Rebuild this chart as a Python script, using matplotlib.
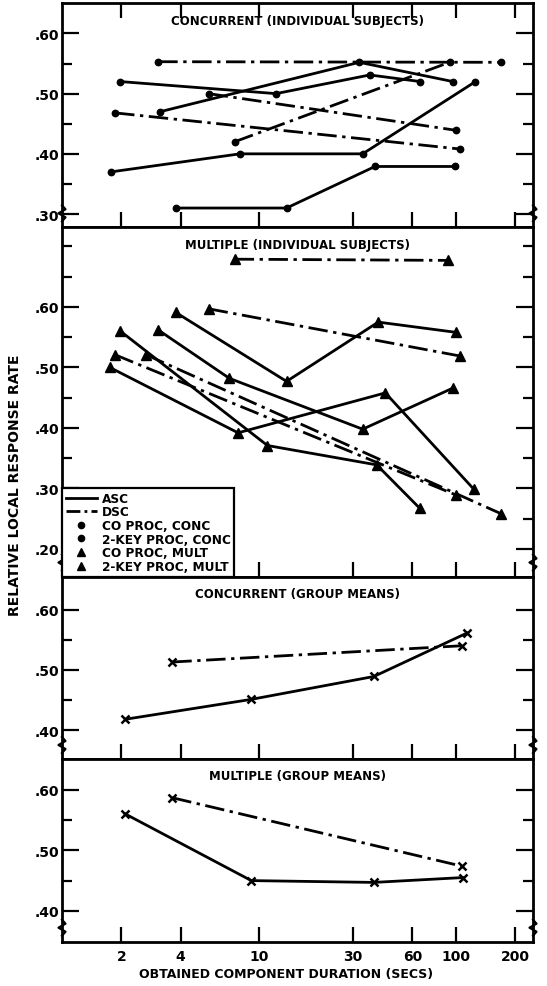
import matplotlib
matplotlib.use("Agg")
import matplotlib.pyplot as plt
from matplotlib.lines import Line2D
from matplotlib.ticker import FixedLocator, FuncFormatter, NullLocator

plt.rcParams['font.family'] = ['DejaVu Sans']
plt.rcParams['font.weight'] = 'bold'

# x tick values (secs)
x_ticks = [2, 4, 10, 30, 60, 100, 200]
x_tick_labels = ["2", "4", "10", "30", "60", "100", "200"]

# concurrent, individual subjects (dots)
conc_asc_x = [[1.98, 12.2, 36.5, 66.0], [3.15, 32.3, 96.5], [1.77, 8.0, 33.6, 125.6], [3.78, 13.8, 38.8, 98.3]]
conc_asc_y = [[0.52, 0.50, 0.531, 0.52], [0.47, 0.552, 0.52], [0.37, 0.40, 0.40, 0.52], [0.31, 0.31, 0.379, 0.379]]
conc_dsc_x = [[3.08, 170.0], [7.52, 92.7], [1.86, 104.6], [5.55, 100.4]]
conc_dsc_y = [[0.553, 0.552], [0.42, 0.552], [0.468, 0.408], [0.50, 0.439]]

# multiple, individual subjects (triangles)
mult_asc_x = [[3.78, 13.8, 40.3, 100.4], [3.08, 7.08, 33.6, 96.5], [1.75, 7.83, 43.8, 123.0], [1.98, 11.04, 39.6, 65.6]]
mult_asc_y = [[0.591, 0.477, 0.575, 0.558], [0.562, 0.482, 0.398, 0.466], [0.50, 0.392, 0.458, 0.299], [0.56, 0.371, 0.339, 0.267]]
mult_dsc_x = [[7.52, 90.8], [5.55, 104.6], [1.86, 100.4], [2.67, 170.0]]
mult_dsc_y = [[0.679, 0.677], [0.597, 0.519], [0.521, 0.289], [0.521, 0.258]]

# group means (crosses)
gm_conc_asc_x = [2.10, 9.14, 38.3, 113.5]
gm_conc_asc_y = [0.418, 0.451, 0.489, 0.561]
gm_conc_dsc_x = [3.63, 106.7]
gm_conc_dsc_y = [0.513, 0.540]
gm_mult_asc_x = [2.10, 9.14, 38.3, 108.0]
gm_mult_asc_y = [0.560, 0.450, 0.447, 0.455]
gm_mult_dsc_x = [3.63, 106.7]
gm_mult_dsc_y = [0.587, 0.474]

titles = ["CONCURRENT (INDIVIDUAL SUBJECTS)", "MULTIPLE (INDIVIDUAL SUBJECTS)",
          "CONCURRENT (GROUP MEANS)", "MULTIPLE (GROUP MEANS)"]

W, H = 547, 987
fig = plt.figure(figsize=(W / 100, H / 100), dpi=100)

left_px, right_px = 62, 533
# (top px, bottom px, ylim, major yticks, minor yticks)
panels = [
    (4.3, 228.3, (0.278, 0.65), [0.3, 0.4, 0.5, 0.6], [0.35, 0.45, 0.55]),
    (228.3, 577.5, (0.1545, 0.7317), [0.2, 0.3, 0.4, 0.5, 0.6], [0.25, 0.35, 0.45, 0.55, 0.65, 0.70]),
    (577.5, 760.0, (0.352, 0.655), [0.4, 0.5, 0.6], [0.45, 0.55]),
    (760.0, 942.7, (0.349, 0.651), [0.4, 0.5, 0.6], [0.45, 0.55]),
]

dashdot = (7, 2, 1.2, 2)
lw = 2.0

axes = []
for i, (top, bot, ylim, major, minor) in enumerate(panels):
    ax = fig.add_axes([left_px / W, (H - bot) / H, (right_px - left_px) / W, (bot - top) / H])
    ax.set_xscale('log')
    ax.set_xlim(1.0, 246)
    ax.set_ylim(*ylim)
    ax.xaxis.set_major_locator(FixedLocator(x_ticks))
    ax.xaxis.set_minor_locator(NullLocator())
    ax.yaxis.set_major_locator(FixedLocator(major))
    ax.yaxis.set_minor_locator(FixedLocator(minor))
    ax.yaxis.set_major_formatter(FuncFormatter(lambda v, p: f"{v:.2f}".lstrip('0')))
    if i == 3:
        ax.set_xticklabels(x_tick_labels)
    else:
        ax.set_xticklabels([])
    ax.tick_params(axis='x', which='both', direction='in', length=11, width=1.6,
                   top=(i == 0), bottom=True, labelsize=10, pad=5)
    ax.tick_params(axis='y', which='major', direction='in', length=12, width=1.6,
                   left=True, right=True, labelsize=10, pad=2)
    ax.tick_params(axis='y', which='minor', direction='in', length=7, width=1.6,
                   left=True, right=True)
    for s in ax.spines.values():
        s.set_linewidth(2.0)
    ax.text(0.5, 1 - 17 / (bot - top), titles[i], transform=ax.transAxes,
            ha='center', va='center', fontsize=8.5, fontweight='bold')
    # axis break squiggles near the bottom corners
    wpx, hpx = right_px - left_px, bot - top
    for xa in (0, 1):
        ax.plot([xa + dx / wpx for dx in (0, 3.5, -3.5, 3.5, 0)],
                [dy / hpx for dy in (6, 10, 14, 18, 22)],
                transform=ax.transAxes, clip_on=False, color='black', lw=1.6)
    axes.append(ax)

ax1, ax2, ax3, ax4 = axes

for xs, ys in zip(conc_asc_x, conc_asc_y):
    ax1.plot(xs, ys, color='black', lw=lw, marker='o', ms=4.6)
for xs, ys in zip(conc_dsc_x, conc_dsc_y):
    ax1.plot(xs, ys, color='black', lw=lw, dashes=dashdot, marker='o', ms=4.6)

for xs, ys in zip(mult_asc_x, mult_asc_y):
    ax2.plot(xs, ys, color='black', lw=lw, marker='^', ms=6.5)
for xs, ys in zip(mult_dsc_x, mult_dsc_y):
    ax2.plot(xs, ys, color='black', lw=lw, dashes=dashdot, marker='^', ms=6.5)

ax3.plot(gm_conc_asc_x, gm_conc_asc_y, color='black', lw=lw, marker='x', ms=6, mew=1.8)
ax3.plot(gm_conc_dsc_x, gm_conc_dsc_y, color='black', lw=lw, dashes=dashdot, marker='x', ms=6, mew=1.8)
ax4.plot(gm_mult_asc_x, gm_mult_asc_y, color='black', lw=lw, marker='x', ms=6, mew=1.8)
ax4.plot(gm_mult_dsc_x, gm_mult_dsc_y, color='black', lw=lw, dashes=dashdot, marker='x', ms=6, mew=1.8)

handles = [
    Line2D([], [], color='black', lw=lw),
    Line2D([], [], color='black', lw=lw, dashes=(5, 1.5, 1, 1.5)),
    Line2D([], [], color='black', ls='none', marker='o', ms=4.5),
    Line2D([], [], color='black', ls='none', marker='o', ms=4.5),
    Line2D([], [], color='black', ls='none', marker='^', ms=6),
    Line2D([], [], color='black', ls='none', marker='^', ms=6),
]
labels = ["ASC", "DSC", "CO PROC, CONC", "2-KEY PROC, CONC", "CO PROC, MULT", "2-KEY PROC, MULT"]
leg = ax2.legend(handles, labels, loc='lower left', borderaxespad=0, fancybox=False,
                 framealpha=1, edgecolor='black', handlelength=2.6, handletextpad=0.4,
                 labelspacing=0.05, borderpad=0.3, prop={'size': 8.7, 'weight': 'bold'})
leg.get_frame().set_linewidth(1.6)

fig.text(0.028, (H - 485) / H, "RELATIVE LOCAL RESPONSE RATE", rotation=90,
         ha='center', va='center', fontsize=10, fontweight='bold')
fig.text((left_px + right_px) / 2 / W - 0.02, (H - 975) / H, "OBTAINED COMPONENT DURATION (SECS)",
         ha='center', va='center', fontsize=9, fontweight='bold')

fig.savefig("out.png", dpi=100, facecolor='white')
